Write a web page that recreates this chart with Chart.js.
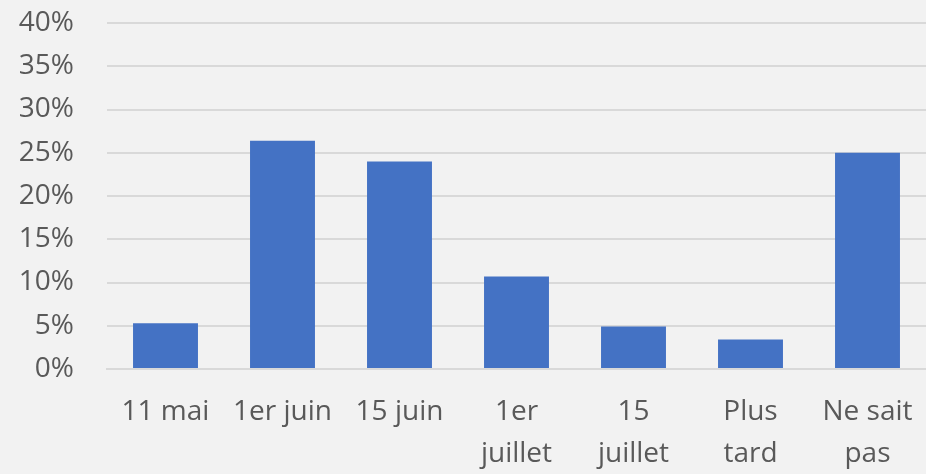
<!DOCTYPE html>
<html>
<head>
<meta charset="utf-8">
<script src="https://cdn.jsdelivr.net/npm/chart.js@4"></script>
<style>
  html, body { margin: 0; padding: 0; background: #f2f2f2; }
  #wrap { width: 926px; height: 474px; }
</style>
</head>
<body>
<div id="wrap"><canvas id="mycanvas"></canvas></div>
<script>
var categories = ['11 mai', '1er juin', '15 juin', ['1er', 'juillet'], ['15', 'juillet'], ['Plus', 'tard'], ['Ne sait', 'pas']];
var values = [0.053, 0.264, 0.240, 0.107, 0.049, 0.034, 0.250];
var yMax = 0.40;
var yStep = 0.05;

var fontFamily = "'Open Sans', 'Noto Sans', sans-serif";

var chartdata = {
  labels: categories,
  datasets: [{
    label: 'Réponses',
    backgroundColor: '#4472c4',
    borderColor: '#4472c4',
    borderWidth: 0,
    data: values,
    barPercentage: 1,
    categoryPercentage: 0.555
  }]
};

var ctx = document.getElementById('mycanvas');
var barGraph = new Chart(ctx, {
  type: 'bar',
  data: chartdata,
  options: {
    responsive: true,
    maintainAspectRatio: false,
    animation: false,
    layout: { padding: { top: 23, right: 0, left: 0, bottom: 0 } },
    plugins: {
      legend: { display: false },
      tooltip: { enabled: false }
    },
    scales: {
      x: {
        grid: { display: false, drawTicks: false },
        border: { display: true, color: '#d9d9d9', width: 2 },
        ticks: {
          color: '#595959',
          font: { family: fontFamily, size: 28, lineHeight: 1.5 },
          padding: 22,
          maxRotation: 0,
          autoSkip: false
        },
        afterFit: function(scale) {
          scale.height = 105;
          scale.paddingLeft = 0;
          scale.paddingRight = 0;
        }
      },
      y: {
        min: 0,
        max: yMax,
        grid: { color: '#d9d9d9', lineWidth: 2, drawTicks: false },
        border: { display: false },
        ticks: {
          stepSize: yStep,
          color: '#595959',
          font: { family: fontFamily, size: 28 },
          padding: 33,
          callback: function(v) { return Math.round(v * 100) + '%'; }
        },
        afterFit: function(scale) {
          scale.width = 107;
          scale.paddingTop = 0;
          scale.paddingBottom = 0;
        }
      }
    }
  }
});
</script>
</body>
</html>
